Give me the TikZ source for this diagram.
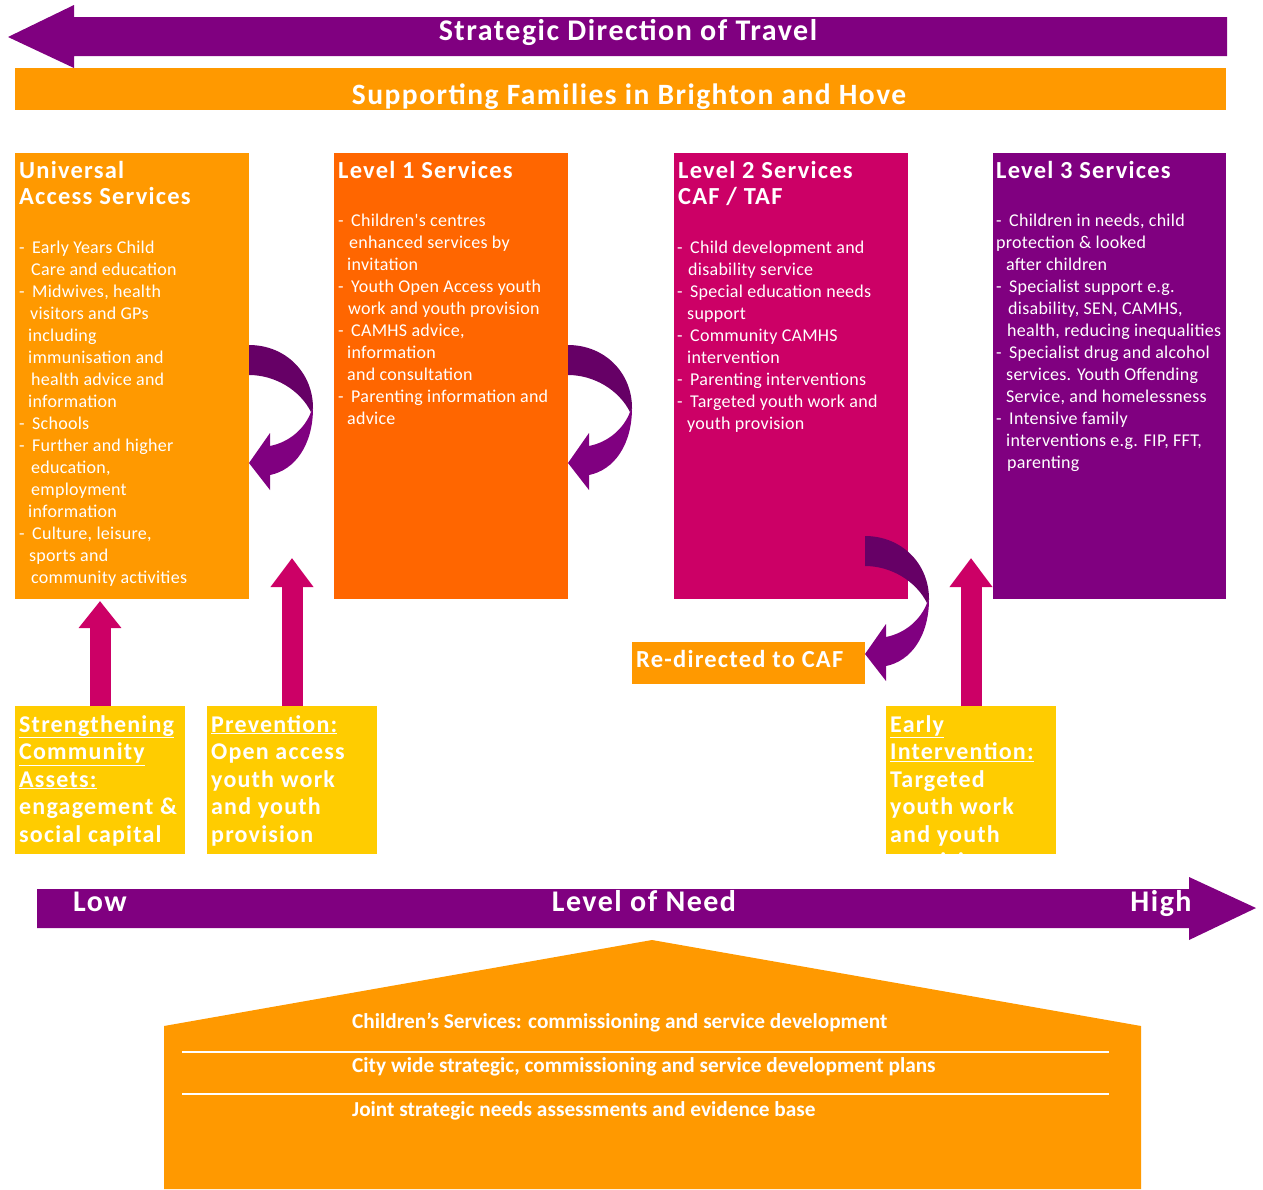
\documentclass[tikz,border=0pt]{standalone}
\usepackage{fontspec}
\setmainfont{Carlito}
\newfontfamily\hdf[LetterSpace=5]{Carlito}
\newfontfamily\bdf[LetterSpace=1.5]{Carlito}
\usetikzlibrary{arrows.meta}
\definecolor{orng}{HTML}{FF9900}
\definecolor{dorng}{HTML}{FF6600}
\definecolor{mgnt}{HTML}{CC0066}
\definecolor{purp}{HTML}{800080}
\definecolor{dpurp}{HTML}{660066}
\definecolor{yell}{HTML}{FFCC00}
\newcommand{\Dsh}[1]{\makebox[13pt][l]{-}#1}
\newcommand{\Ind}[2]{\hspace*{#1pt}#2}
\newcommand{\curvedarrow}[2]{%
  \begin{scope}[shift={(#1,#2)}]
    \fill[purp] (313,408) .. controls (313,445) and (295,470) .. (270,475) -- (270,490) -- (249,463) -- (270,433) -- (270,446) .. controls (290,442) and (305,428) .. (311,412) -- cycle;
    \fill[dpurp] (249,345) .. controls (285,345) and (313,372) .. (313,408) -- (311,412) .. controls (300,390) and (275,375) .. (249,375) -- cycle;
  \end{scope}}
\tikzset{
  panel/.style={rectangle,inner sep=0pt,outer sep=0pt,anchor=north west,draw=none},
  heading/.style={inner sep=0pt,anchor=north west,align=left,text=white,font=\hdf\bfseries\fontsize{24.5}{26.5}\selectfont},
  bodytext/.style={inner sep=0pt,anchor=north west,align=left,text=white,font=\bdf\fontsize{18}{22}\selectfont},
  yellowtext/.style={inner sep=0pt,anchor=north west,align=left,text=white,font=\hdf\bfseries\fontsize{24}{27.5}\selectfont},
  bandtext/.style={inner sep=0pt,anchor=base,text=white,font=\hdf\bfseries\fontsize{30}{32}\selectfont},
  housetext/.style={inner sep=0pt,anchor=west,text=white,font=\bfseries\fontsize{21.3}{24}\selectfont},
  uparrow/.style={draw=mgnt,line width=21pt,-{Triangle[length=29pt,width=41pt,fill=mgnt]}}
}
\begin{document}
\begin{tikzpicture}[x=1pt,y=-1pt]
\useasboundingbox (0,0) rectangle (1263,1189);
% top arrow and band
\fill[purp] (8,37) -- (74,5) -- (74,17) -- (1227,17) -- (1227,56) -- (74,56) -- (74,68) -- cycle;
\node[bandtext] (direction) at (628,40) {Strategic Direction of Travel};
\node[panel,fill=orng,minimum width=1211pt,minimum height=42pt] (band) at (15,68) {};
\node[bandtext,font=\hdf\bfseries\fontsize{29.5}{32}\selectfont] (families) at (629,104) {Supporting Families in Brighton and Hove};
% main panels
\node[panel,fill=orng,minimum width=234pt,minimum height=446pt] (universal) at (15,153) {};
\node[panel,fill=dorng,minimum width=234pt,minimum height=446pt] (levelone) at (334,153) {};
\node[panel,fill=mgnt,minimum width=234pt,minimum height=446pt] (leveltwo) at (674,153) {};
\node[panel,fill=purp,minimum width=233pt,minimum height=446pt] (levelthree) at (993,153) {};
\node[heading] (universalhead) at (19,161) {Universal\\Access Services};
\node[heading] (levelonehead) at (338,161) {Level 1 Services};
\node[heading] (leveltwohead) at (678,161) {Level 2 Services\\CAF / TAF};
\node[heading] (levelthreehead) at (996,161) {Level 3 Services};
\node[bodytext] (universalbody) at (19,241) {\Dsh{Early Years Child}\\
\Ind{12}{Care and education}\\
\Dsh{Midwives, health}\\
\Ind{11}{visitors and GPs}\\
\Ind{9}{including}\\
\Ind{9}{immunisation and}\\
\Ind{12}{health advice and}\\
\Ind{9}{information}\\
\Dsh{Schools}\\
\Dsh{Further and higher}\\
\Ind{12}{education,}\\
\Ind{12}{employment}\\
\Ind{9}{information}\\
\Dsh{Culture, leisure,}\\
\Ind{10}{sports and}\\
\Ind{12}{community activities}};
\node[bodytext] (levelonebody) at (338,214) {\Dsh{Children's centres}\\
\Ind{11}{enhanced services by}\\
\Ind{9}{invitation}\\
\Dsh{Youth Open Access youth}\\
\Ind{10}{work and youth provision}\\
\Dsh{CAMHS advice,}\\
\Ind{9}{information}\\
\Ind{9}{and consultation}\\
\Dsh{Parenting information and}\\
\Ind{9}{advice}};
\node[bodytext] (leveltwobody) at (677,241) {\Dsh{Child development and}\\
\Ind{11}{disability service}\\
\Dsh{Special education needs}\\
\Ind{10}{support}\\
\Dsh{Community CAMHS}\\
\Ind{10}{intervention}\\
\Dsh{Parenting interventions}\\
\Dsh{Targeted youth work and}\\
\Ind{10}{youth provision}};
\node[bodytext] (levelthreebody) at (996,214) {\Dsh{Children in needs, child}\\
protection \& looked\\
\Ind{10}{after children}\\
\Dsh{Specialist support e.g.}\\
\Ind{12}{disability, SEN, CAMHS,}\\
\Ind{11}{health, reducing inequalities}\\
\Dsh{Specialist drug and alcohol}\\
\Ind{10}{services. Youth Offending}\\
\Ind{10}{Service, and homelessness}\\
\Dsh{Intensive family}\\
\Ind{10}{interventions e.g. FIP, FFT,}\\
\Ind{11}{parenting}};
% redirect
\node[panel,fill=orng,minimum width=233pt,minimum height=42pt] (redirect) at (632,642) {};
\node[heading] (redirecttext) at (636,650) {Re-directed to CAF};
% curved arrows
\curvedarrow{0}{0}
\curvedarrow{319}{0}
\curvedarrow{616}{191}
% yellow panels
\node[panel,fill=yell,minimum width=170pt,minimum height=148pt] (assets) at (15,706) {};
\node[panel,fill=yell,minimum width=170pt,minimum height=148pt] (prevention) at (207,706) {};
\node[panel,fill=yell,minimum width=170pt,minimum height=148pt] (early) at (886,706) {};
\node[yellowtext] (assetstext) at (19,715) {\underline{Strengthening}\\\underline{Community}\\\underline{Assets:}\\engagement \&\\social capital};
\node[yellowtext] (preventiontext) at (211,715) {\underline{Prevention:}\\Open access\\youth work\\and youth\\provision};
\begin{scope}
  \clip (886,706) rectangle (1056,854);
  \node[yellowtext] (earlytext) at (890,715) {\underline{Early}\\\underline{Intervention:}\\Targeted\\youth work\\and youth\\provision};
\end{scope}
% block up arrows
\coordinate (preventiontip) at (292,558);
\coordinate (earlytip) at (971,558);
\draw[uparrow,-{Triangle[length=27pt,width=41pt,fill=mgnt]},shorten >=2pt] (assets.north) -- (assets.north |- universal.south);
\draw[uparrow] (prevention.north) -- (preventiontip);
\draw[uparrow] (early.north) -- (earlytip);
% level of need arrow
\fill[purp] (37,889) -- (1189,889) -- (1189,877) -- (1256,908) -- (1189,940) -- (1189,928) -- (37,928) -- cycle;
\node[bandtext] (low) at (100,911) {Low};
\node[bandtext] (need) at (644,911) {Level of Need};
\node[bandtext] (high) at (1161,911) {High};
% house
\fill[orng] (164,1026) -- (652,940) -- (1141,1026) -- (1141,1189) -- (164,1189) -- cycle;
\coordinate (ruleaw) at (182,1052);
\coordinate (ruleae) at (1109,1052);
\coordinate (rulebw) at (182,1094);
\coordinate (rulebe) at (1109,1094);
\draw[white,line width=1.2pt] (ruleaw) -- (ruleae);
\draw[white,line width=1.2pt] (rulebw) -- (rulebe);
\node[housetext] (housea) at (352,1023) {Children's Services: commissioning and service development};
\node[housetext] (houseb) at (352,1067) {City wide strategic, commissioning and service development plans};
\node[housetext] (housec) at (352,1111) {Joint strategic needs assessments and evidence base};
\end{tikzpicture}
\end{document}
